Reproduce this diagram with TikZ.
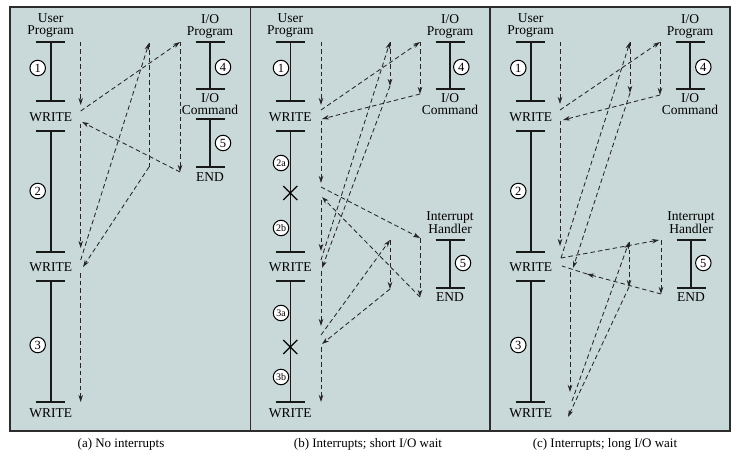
\documentclass[tikz,border=0pt]{standalone}
\usepackage{fontspec}
\setmainfont{Liberation Serif}
\usetikzlibrary{arrows.meta}
\definecolor{bgc}{RGB}{201,216,216}
\definecolor{framec}{RGB}{45,45,45}
\newcommand\progseg[3]{\draw[prog] (#1-14.5,#2) -- (#1+14.5,#2) (#1,#2) -- (#1,#3) (#1-14.5,#3) -- (#1+14.5,#3);}
\begin{document}
\begin{tikzpicture}[x=1pt,y=-1pt,
  prog/.style={line width=1.6pt,black!90},
  dl/.style={dash pattern=on 4.5pt off 3pt,line width=0.85pt,black!85},
  dar/.style={dl,-{Stealth[length=7pt,width=4.5pt,inset=2pt]}},
  lbl/.style={font=\fontsize{13.5}{12}\selectfont,align=center,inner sep=0pt},
  captext/.style={font=\fontsize{13}{13}\selectfont,inner sep=0pt},
  num/.style={circle,draw,fill=white,line width=1pt,inner sep=0pt,minimum size=15.5pt,font=\fontsize{12.5}{12}\selectfont},
  nums/.style={num,font=\fontsize{10}{10}\selectfont},
  xmark/.style={line width=1.3pt}]
\useasboundingbox (0,0) rectangle (743,457);
\fill[white] (0,0) rectangle (743,457);
% panels
\fill[bgc] (10,7) rectangle (730,431);
\draw[framec,line width=1.5pt] (10,7) rectangle (730,431);
\draw[framec,line width=1.5pt] (250.5,7) -- (250.5,431);
\draw[framec,line width=1.5pt] (490,7) -- (490,431);

% ================= panel (a)
\node[lbl] (aup) at (50.7,26) {User\\Program};
\progseg{50.7}{42}{101}
\progseg{50.7}{131}{252}
\progseg{50.7}{281}{402}
\node[lbl] (aw1) at (50.7,117) {WRITE};
\node[lbl] (aw2) at (50.7,267) {WRITE};
\node[lbl] (aw3) at (50.7,413) {WRITE};
\node[num] (a1) at (37.7,68) {1};
\node[num] (a2) at (37.7,191) {2};
\node[num] (a3) at (37.7,345) {3};
\node[lbl] (aiop) at (210,26) {I/O\\Program};
\progseg{210}{42}{89}
\node[lbl] (aioc) at (210,104) {I/O\\Command};
\progseg{210}{119}{167}
\node[lbl] (aend) at (210,177) {END};
\node[num] (a4) at (223,67) {4};
\node[num] (a5) at (223,143) {5};

\coordinate (aA) at (80.7,42);
\coordinate (aB) at (80.7,105);
\coordinate (aC) at (80.7,111);
\coordinate (aD) at (180,42);
\coordinate (aE) at (180,172);
\coordinate (aG) at (82,122);
\coordinate (aH) at (80.7,124);
\coordinate (aI) at (80.7,248);
\coordinate (aJ) at (80.7,260);
\coordinate (aK) at (149,43);
\coordinate (aL) at (149,167);
\coordinate (aM) at (83,267);
\coordinate (aN) at (80.7,273);
\coordinate (aO) at (80.7,402);
\draw[dar] (aA) -- (aB);
\draw[dar] (aC) -- (aD);
\draw[dar] (aD) -- (aE);
\draw[dar] (aE) -- (aG);
\draw[dar] (aH) -- (aI);
\draw[dar] (aJ) -- (aK);
\draw[dl] (aK) -- (aL);
\draw[dar] (aL) -- (aM);
\draw[dar] (aN) -- (aO);

% ================= panel (b)
\node[lbl] (bup) at (290.3,26) {User\\Program};
\progseg{290.3}{42}{101}
\progseg{290.3}{131}{252}
\progseg{290.3}{281}{402}
\node[lbl] (bw1) at (290.3,117) {WRITE};
\node[lbl] (bw2) at (290.3,267) {WRITE};
\node[lbl] (bw3) at (290.3,413) {WRITE};
\node[num] (b1) at (281,68) {1};
\node[nums] (b2a) at (281,163) {2a};
\node[nums] (b2b) at (281,228) {2b};
\node[nums] (b3a) at (281,313) {3a};
\node[nums] (b3b) at (281,377) {3b};
\draw[xmark] (283.3,186) -- (297.3,200) (283.3,200) -- (297.3,186);
\draw[xmark] (283.3,340) -- (297.3,354) (283.3,354) -- (297.3,340);
\node[lbl] (biop) at (450,26) {I/O\\Program};
\progseg{450}{42}{89}
\node[lbl] (bioc) at (450,104) {I/O\\Command};
\node[num] (b4) at (461.3,67) {4};
\node[lbl] (bih) at (450,223) {Interrupt\\Handler};
\progseg{450}{240}{288}
\node[lbl] (bend) at (450,297) {END};
\node[num] (b5) at (463,263) {5};

\coordinate (bA) at (321,42);
\coordinate (bB) at (321,105);
\coordinate (bC) at (321,110);
\coordinate (bD) at (420,42);
\coordinate (bE) at (420,94);
\coordinate (bF) at (322,119);
\coordinate (bG) at (321,121);
\coordinate (bH) at (321,183);
\coordinate (bI) at (321,187);
\coordinate (bJ) at (420,238);
\coordinate (bK) at (420,297);
\coordinate (bL) at (322,197);
\coordinate (bM) at (321,200);
\coordinate (bN) at (321,251);
\coordinate (bO) at (321,260);
\coordinate (bP) at (390,42);
\coordinate (bQ) at (390,86);
\coordinate (bR) at (322,268);
\coordinate (bS) at (321,271);
\coordinate (bT) at (321,326);
\coordinate (bU) at (321,335);
\coordinate (bV) at (390,240);
\coordinate (bW) at (390,289);
\coordinate (bX) at (322,344);
\coordinate (bY) at (321,347);
\coordinate (bZ) at (321,402);
\draw[dar] (bA) -- (bB);
\draw[dar] (bC) -- (bD);
\draw[dar] (bD) -- (bE);
\draw[dar] (bE) -- (bF);
\draw[dar] (bG) -- (bH);
\draw[dar] (bI) -- (bJ);
\draw[dar] (bJ) -- (bK);
\draw[dar] (bK) -- (bL);
\draw[dar] (bM) -- (bN);
\draw[dar] (bO) -- (bP);
\draw[dar] (bP) -- (bQ);
\draw[dar] (bQ) -- (bR);
\draw[dar] (bS) -- (bT);
\draw[dar] (bU) -- (bV);
\draw[dar] (bV) -- (bW);
\draw[dar] (bW) -- (bX);
\draw[dar] (bY) -- (bZ);

% ================= panel (c)
\node[lbl] (cup) at (530.7,26) {User\\Program};
\progseg{530.7}{42}{101}
\progseg{530.7}{131}{252}
\progseg{530.7}{281}{402}
\node[lbl] (cw1) at (530.7,117) {WRITE};
\node[lbl] (cw2) at (530.7,267) {WRITE};
\node[lbl] (cw3) at (530.7,413) {WRITE};
\node[num] (c1) at (518.3,68) {1};
\node[num] (c2) at (518.3,191) {2};
\node[num] (c3) at (518.3,345) {3};
\node[lbl] (ciop) at (690,26) {I/O\\Program};
\progseg{690}{42}{89}
\node[lbl] (cioc) at (690,104) {I/O\\Command};
\node[num] (c4) at (703.3,67) {4};
\node[lbl] (cih) at (691,223) {Interrupt\\Handler};
\progseg{691}{240}{288}
\node[lbl] (cend) at (691,297) {END};
\node[num] (c5) at (703.3,263) {5};

\coordinate (cA) at (560,42);
\coordinate (cB) at (560,104);
\coordinate (cC) at (560,110);
\coordinate (cD) at (660,42);
\coordinate (cE) at (660,95);
\coordinate (cF) at (563,120);
\coordinate (cG) at (560,121);
\coordinate (cH) at (560,246);
\coordinate (cI) at (561,258);
\coordinate (cJ) at (659,240);
\coordinate (cK) at (661,294);
\coordinate (cL) at (587,274);
\coordinate (cL2) at (562,266);
\coordinate (cN) at (630,42);
\coordinate (cO) at (630,93);
\coordinate (cP) at (573,268);
\coordinate (cQ) at (570,272);
\coordinate (cR) at (570,392);
\coordinate (cS) at (572,401);
\coordinate (cT) at (629,242);
\coordinate (cU) at (629,287);
\coordinate (cV) at (568,417);
\draw[dar] (cA) -- (cB);
\draw[dar] (cC) -- (cD);
\draw[dar] (cD) -- (cE);
\draw[dar] (cE) -- (cF);
\draw[dar] (cG) -- (cH);
\draw[dar] (cI) -- (cJ);
\draw[dar] (cJ -| cK) -- (cK);
\draw[dar] (cK) -- (cL);
\draw[dl] (cL) -- (cL2);
\draw[dar] (cI) -- (cN);
\draw[dar] (cN) -- (cO);
\draw[dar] (cO) -- (cP);
\draw[dar] (cQ) -- (cR);
\draw[dar] (cS) -- (cT);
\draw[dar] (cT) -- (cU);
\draw[dar] (cU) -- (cV);

% captions
\node[captext] (capa) at (121,444) {(a) No interrupts};
\node[captext] (capb) at (368,444) {(b) Interrupts; short I/O wait};
\node[captext] (capc) at (605,444) {(c) Interrupts; long I/O wait};
\end{tikzpicture}
\end{document}
